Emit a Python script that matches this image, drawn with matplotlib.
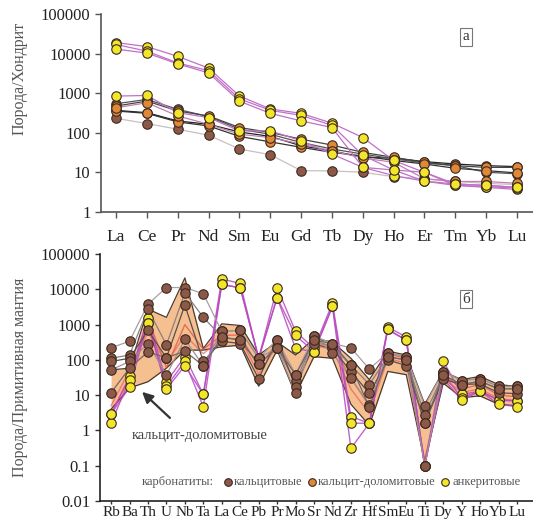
import numpy as np
import matplotlib
matplotlib.use("Agg")
import matplotlib.pyplot as plt

plt.rcParams['font.family'] = ['Liberation Serif', 'DejaVu Serif']

# ---------------- data: panel a (chondrite-normalised REE) ----------------
ree = ["La", "Ce", "Pr", "Nd", "Sm", "Eu", "Gd", "Tb", "Dy", "Ho", "Er", "Tm", "Yb", "Lu"]

ank_a1 = [19000, 15000, 8500, 4300, 850, 400, 310, 175, 76, 20, 10, 4.7, 4.2, 3.7]
ank_a2 = [17000, 11500, 5800, 3700, 720, 370, 275, 155, 27, 11.5, 6.0, 5.1, 4.7, 4.2]
ank_a3 = [13000, 10300, 5500, 3250, 630, 310, 200, 136, 13.4, 8.3, 6.0, 4.7, 4.4, 4.0]
ank_a4 = [845, 877, 322, 242, 112, 112, 63, 29, 13.4, 11.5, 10.1, 5.1, 4.7, 4.2]

cal_a1 = [232, 171, 123, 87, 39, 28, 11.1, 10.9, 10.1, 7.8, 6.9, 5.9, 5.3, 4.9]
cal_a2 = [369, 322, 199, 164, 105, 81, 47, 35, 24, 23, 18.7, 16.3, 14.8, 14]
cal_a3 = [542, 697, 391, 256, 123, 92, 57, 39, 29, 22, 17.3, 14.8, 10.1, 9.2]

cd_a1 = [474, 633, 355, 266, 136, 102, 69, 49, 32, 24, 18, 14.8, 13.4, 13.4]
cd_a2 = [355, 310, 188, 149, 81, 59, 43, 32, 26, 20, 16.3, 12.7, 11.1, 9.7]
cd_a3 = [430, 574, 266, 164, 92, 76, 52, 35, 23, 18, 6.9, 5.9, 5.9, 5.3]

# ---------------- data: panel б (primitive-mantle normalised) ----------------
elems = ["Rb", "Ba", "Th", "U", "Nb", "Ta", "La", "Ce", "Pb", "Pr", "Mo", "Sr",
         "Nd", "Zr", "Hf", "Sm", "Eu", "Ti", "Dy", "Y", "Ho", "Yb", "Lu"]

cal_b1 = [220, 337, 3790, 11200, 11200, 7500, 640, 683, 111, 375, 38, 475, 290, 220, 55, 160, 123, 5.0, 46.5, 26, 29.4, 17.6, 17.6]
cal_b2 = [111, 137, 2750, 265, 8000, 1600, 446, 360, 75, 220, 24.7, 360, 234, 71, 20, 123, 99, 2.8, 37.5, 20, 24.8, 15.1, 15.1]
cal_b3 = [90, 111, 683, 114, 3578, 90, 337, 290, 29.4, 375, 17.2, 278, 210, 46.5, 11.2, 99, 69, 1.6, 28.4, 20, 20.9, 11.7, 11.0]
cal_b4 = [52, 90, 290, 37.5, 380, 68, 640, 683, 111, 220, 11.2, 475, 153, 30.4, 5.3, 160, 123, 0.1, 46.5, 26, 29.4, 17.6, 17.6]
cal_b5 = [11.7, 58, 170, 114, 177, 68, 446, 360, 75, 220, 38, 360, 290, 71, 4.5, 123, 99, 1.6, 37.5, 20, 24.8, 15.1, 15.1]

ank_b1 = [2.9, 34, 1510, 24, 124, 10.5, 19700, 14600, 111, 11200, 640, 210, 4040, 2.46, 1.6, 845, 446, 0.1, 94, 10.5, 13, 7.2, 6.9]
ank_b2 = [1.6, 27.5, 1120, 17.6, 90, 4.7, 13700, 11000, 111, 5810, 496, 170, 3260, 1.6, 1.6, 728, 360, 0.1, 40, 8.5, 13, 7.2, 6.9]
ank_b3 = [2.9, 16.9, 1120, 14.8, 68, 10.5, 13700, 11000, 111, 5810, 210, 170, 3260, 0.31, 1.6, 728, 360, 0.1, 30, 7.2, 13, 5.5, 4.7]

cd_b1 = [3.0, 30, 1500, 60, 1000, 200, 500, 500, 60, 300, 40, 300, 250, 30, 5, 150, 110, 0.1, 40, 15, 20, 10, 9]
cd_b2 = [5.0, 50, 600, 80, 500, 150, 400, 400, 40, 250, 20, 250, 200, 15, 3, 110, 80, 0.15, 30, 12, 15, 8, 7]

cd_field_top = [52, 58, 2750, 1600, 21000, 210, 1050, 942, 137, 323, 137, 400, 323, 111, 27.5, 177, 137, 5.5, 47, 27.5, 34, 20, 17.6]
cd_field_bot = [4.0, 16, 24, 58, 189, 189, 234, 261, 18, 189, 10.5, 123, 111, 5.5, 1.4, 47, 38, 0.13, 22, 8.5, 9.5, 5.5, 5.0]

# ---------------- styles ----------------
C_CAL = "#8c5848"
C_CD = "#e08838"
C_ANK = "#f2e62a"
EDGE = "#3a2a20"
MS = 6.8

fig = plt.figure(figsize=(5.33, 5.23), dpi=100)
ax1 = fig.add_axes([101/533, 1-212/523, 432/533, 198/523])
ax2 = fig.add_axes([100/533, 1-501/523, 433/533, 247/523])


def series(ax, x, y, lc, mc, lw=0.9, alpha=1.0, marker=True):
    ax.plot(x, y, color=lc, lw=lw, alpha=alpha, zorder=2)
    if marker:
        ax.plot(x, y, ls='none', marker='o', ms=MS, mfc=mc, mec=EDGE, mew=0.8, zorder=4)


# ---------------- panel a ----------------
xa = np.arange(len(ree))
series(ax1, xa, cal_a1, "#c8c0c0", C_CAL)
series(ax1, xa, cal_a2, "#222222", C_CAL)
series(ax1, xa, cal_a3, "#555555", C_CAL)
series(ax1, xa, cd_a1, "#444444", C_CD)
series(ax1, xa, cd_a2, "#333333", C_CD)
series(ax1, xa, cd_a3, "#c080b0", C_CD)
for s in (ank_a1, ank_a2, ank_a3, ank_a4):
    series(ax1, xa, s, "#c070c8", C_ANK)

ax1.set_yscale('log')
ax1.set_ylim(1, 1e5)
ax1.set_xlim(-0.49, 13.52)
ax1.set_xticks(xa)
ax1.set_xticklabels(ree, fontsize=12.5)
yt1 = [1, 10, 100, 1000, 10000, 100000]
ax1.set_yticks(yt1)
ax1.set_yticklabels([str(v) for v in yt1], fontsize=12)
ax1.yaxis.set_minor_locator(matplotlib.ticker.NullLocator())
for sp in ("top", "right"):
    ax1.spines[sp].set_visible(False)
for sp in ("left", "bottom"):
    ax1.spines[sp].set_color("#555555")
    ax1.spines[sp].set_linewidth(1.2)
ax1.tick_params(axis='both', colors="#555555", labelcolor="#222222", length=4, width=1)
ax1.tick_params(axis='x', pad=8)
ax1.text(0.845, 0.884, "а", transform=ax1.transAxes, ha='center', va='center',
         fontsize=11, color="#333333",
         bbox=dict(boxstyle='square,pad=0.15', fc='white', ec='#777777', lw=0.8))

# ---------------- panel б ----------------
xb = np.arange(len(elems))
ax2.fill_between(xb, cd_field_bot, cd_field_top, color="#f6b884", alpha=0.9, lw=0, zorder=1)
ax2.plot(xb, cd_field_top, color="#4a3a30", lw=0.9, zorder=2)
ax2.plot(xb, cd_field_bot, color="#4a3a30", lw=0.9, zorder=2)
series(ax2, xb, cd_b1, "#e04a4a", C_CD, lw=1.0, alpha=0.7, marker=False)
series(ax2, xb, cd_b2, "#e86060", C_CD, lw=1.0, alpha=0.7, marker=False)
for s in (ank_b1, ank_b2, ank_b3):
    series(ax2, xb, s, "#b848c0", C_ANK, lw=1.0, alpha=0.85)
series(ax2, xb, cal_b1, "#a8a0a0", C_CAL)
series(ax2, xb, cal_b2, "#8a8080", C_CAL)
series(ax2, xb, cal_b3, "#555050", C_CAL)
series(ax2, xb, cal_b4, "#a09090", C_CAL)
series(ax2, xb, cal_b5, "#706868", C_CAL)

ax2.set_yscale('log')
ax2.set_ylim(0.01, 1e5)
ax2.set_xlim(-0.6, 22.87)
ax2.set_xticks(xb)
ax2.set_xticklabels(elems, fontsize=11)
yt2 = [0.01, 0.1, 1, 10, 100, 1000, 10000, 100000]
ax2.set_yticks(yt2)
ax2.set_yticklabels(["0.01", "0.1", "1", "10", "100", "1000", "10000", "100000"], fontsize=12)
ax2.yaxis.set_minor_locator(matplotlib.ticker.NullLocator())
for sp in ("top", "right"):
    ax2.spines[sp].set_visible(False)
for sp in ("left", "bottom"):
    ax2.spines[sp].set_color("#222222")
    ax2.spines[sp].set_linewidth(1.2)
ax2.tick_params(axis='y', colors="#333333", labelcolor="#222222", length=3.5, width=1)
ax2.tick_params(axis='x', colors="#333333", labelcolor="#222222", length=2.5, width=1, pad=1)
ax2.text(0.845, 0.817, "б", transform=ax2.transAxes, ha='center', va='center',
         fontsize=11, color="#333333",
         bbox=dict(boxstyle='square,pad=0.15', fc='white', ec='#777777', lw=0.8))

ax2.annotate("", xy=(1.57, 14), xytext=(3.3, 2.0),
             arrowprops=dict(arrowstyle='-|>', color='#333333', lw=1.6, mutation_scale=16),
             zorder=6)
ax2.text(1.14, 0.72, "кальцит-доломитовые", fontsize=10.5, color="#444444",
         ha='left', va='center', zorder=6)

# legend row
ly = 0.076
ax2.text(0.097, ly, "карбонатиты:", transform=ax2.transAxes, fontsize=9,
         color="#555555", ha='left', va='center')
for mx, tx, col, lab in ((0.296, 0.309, C_CAL, "кальцитовые"),
                         (0.490, 0.503, C_CD, "кальцит-доломитовые"),
                         (0.797, 0.813, C_ANK, "анкеритовые")):
    ax2.plot([mx], [ly], transform=ax2.transAxes, ls='none', marker='o', ms=5.5,
             mfc=col, mec=EDGE, mew=0.8, clip_on=False, zorder=6)
    ax2.text(tx, ly, lab, transform=ax2.transAxes, fontsize=9, color="#555555",
             ha='left', va='center')

# y labels
fig.text(20/533, 1-78/523, "Порода/Хондрит", rotation=90, ha='center', va='center',
         fontsize=11.5, color="#555555")
fig.text(20/533, 1-377/523, "Порода/Примитивная мантия", rotation=90, ha='center',
         va='center', fontsize=11.5, color="#555555")

fig.savefig("out.png", dpi=100)
